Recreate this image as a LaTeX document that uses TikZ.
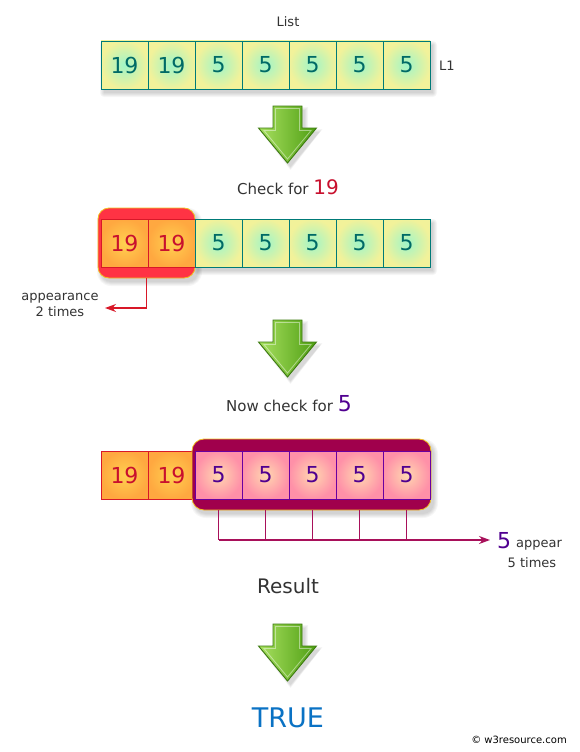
\documentclass[tikz,border=0pt]{standalone}
\usepackage{fontspec}
\setmainfont{DejaVu Sans}
\usetikzlibrary{arrows.meta}
\definecolor{mint}{HTML}{A0F5C8}
\definecolor{yel}{HTML}{F2F29A}
\definecolor{tealline}{HTML}{007A78}
\definecolor{tealtext}{HTML}{006A66}
\definecolor{orin}{HTML}{FFD050}
\definecolor{orout}{HTML}{FFA840}
\definecolor{redtext}{HTML}{C8102E}
\definecolor{redline}{HTML}{D81828}
\definecolor{redfill}{HTML}{FF3344}
\definecolor{goldedge}{HTML}{F0C020}
\definecolor{magfill}{HTML}{A0004C}
\definecolor{pinkin}{HTML}{FFD8B0}
\definecolor{pinkout}{HTML}{FF90A8}
\definecolor{purpleline}{HTML}{6A00A0}
\definecolor{purpletext}{HTML}{500090}
\definecolor{magline}{HTML}{A8105A}
\definecolor{truecol}{HTML}{0A72C4}
\definecolor{greytext}{HTML}{333333}
\definecolor{arrlight}{HTML}{A8E060}
\definecolor{arrdark}{HTML}{4E9E12}
\definecolor{arredge}{HTML}{3C7A10}
\newcommand\mysoftshadow[5]{%
  \foreach \d in {0,1,2,3,4}{%
    \fill[black,opacity=0.035,rounded corners={#5+\d}] ({#1+3-\d},{#2+4-\d}) rectangle ({#3+3+\d},{#4+4+\d});}}
\begin{document}
\begin{tikzpicture}[x=1pt,y=-1pt,
  cellbase/.style={minimum width=47pt,minimum height=48pt,inner sep=0pt,line width=0.8pt,font=\fontsize{22}{22}\selectfont},
  gcell/.style={cellbase,draw=tealline,inner color=mint,outer color=yel,text=tealtext},
  ocell/.style={cellbase,draw=redline,inner color=orin,outer color=orout,text=redtext},
  pcell/.style={cellbase,draw=purpleline,inner color=pinkin,outer color=pinkout,text=purpletext},
  redbox/.style={draw=goldedge,fill=redfill,line width=0.8pt,rounded corners=11pt,minimum width=97pt,minimum height=70pt,inner sep=0pt},
  magbox/.style={draw=goldedge,fill=magfill,line width=0.8pt,rounded corners=12pt,minimum width=239pt,minimum height=71pt,inner sep=0pt},
  txt/.style={text=greytext,inner sep=0pt,font=\fontsize{15}{18}\selectfont},
  small/.style={text=greytext,inner sep=0pt,font=\fontsize{13}{16}\selectfont,align=center},
  redconn/.style={draw=redline,line width=1.3pt,-{Stealth[length=11pt,width=8pt]}},
  magconn/.style={draw=magline,line width=1.3pt},
  greenarrow/.pic={
    \foreach \d in {0,1,2,3}{\fill[black,opacity=0.04] ({-14.5+3-\d},{0+4-\d}) -- ({14.5+3+\d},{0+4-\d}) -- ({14.5+3+\d},{22+4-\d}) -- ({29+3+\d},{22+4-\d}) -- ({0+3},{57+4+\d}) -- ({-29+3-\d},{22+4-\d}) -- ({-14.5+3-\d},{22+4-\d}) -- cycle;}
    \path[draw=arredge,line width=0.9pt,left color=arrlight,right color=arrdark,line join=miter]
      (-14.5,0) -- (14.5,0) -- (14.5,22) -- (29,22) -- (0,57) -- (-29,22) -- (-14.5,22) -- cycle;
    \draw[white,opacity=0.45,line width=0.8pt] (-12,2.5) -- (12,2.5) -- (12,24.5) -- (23.5,24.5) -- (0,53) -- (-23.5,24.5) -- (-12,24.5) -- cycle;
  }]
\useasboundingbox (0,0) rectangle (579,752);
\fill[white] (0,0) rectangle (579,752);

% ---------- title and row 1 ----------
\node[small] (list) at (288,22) {List};
\mysoftshadow{101}{41}{430}{89}{0}
\foreach \v [count=\i] in {19,19,5,5,5,5,5}{
  \node[gcell] (c1\i) at ({101+23.5+47*(\i-1)},65) {\v};}
\node[small,anchor=west] (l1) at (439,66) {L1};

\pic at (287.5,106) {greenarrow};

% ---------- check for 19 ----------
\node[txt] (chk1) at (288,187) {Check for \textcolor{redtext}{\fontsize{20}{20}\selectfont 19}};
\mysoftshadow{98}{208}{195}{278}{10}
\mysoftshadow{195}{219}{430}{267}{0}
\node[redbox] (rb) at (146.5,243) {};
\foreach \v [count=\i] in {19,19}{
  \node[ocell] (c2\i) at ({101+23.5+47*(\i-1)},243) {\v};}
\foreach \i in {3,...,7}{
  \node[gcell] (c2\i) at ({101+23.5+47*(\i-1)},243) {5};}
\node[small] (app) at (60,305) {appearance\\2 times};
\coordinate (a1) at (105,308);
\draw[redconn] (rb.south) |- (a1);

\pic at (287.5,320) {greenarrow};

% ---------- check for 5 ----------
\node[txt] (chk2) at (289,404) {Now check for \textcolor{purpletext}{\fontsize{22}{22}\selectfont 5}};
\mysoftshadow{192}{439}{431}{510}{11}
\foreach \v [count=\i] in {19,19}{
  \node[ocell] (c3\i) at ({101+23.5+47*(\i-1)},475) {\v};}
\node[magbox] (mb) at (311.5,474.5) {};
\foreach \i in {3,...,7}{
  \node[pcell] (c3\i) at ({101+23.5+47*(\i-1)},475) {5};}
\coordinate (hl) at (219,540);
\coordinate (a2) at (490,540);
\foreach \i in {3,...,7}{
  \draw[magconn] (c3\i |- mb.south) -- (c3\i |- hl);}
\draw[magconn,-{Stealth[length=11pt,width=8pt]}] (c33 |- hl) -- (a2);
\node[inner sep=0pt,anchor=west,text=purpletext,font=\fontsize{22}{22}\selectfont] (five) at (497,541) {5};
\node[small,anchor=west] (appear) at (516,545) {appear};
\node[small] (times) at (532,563) {5 times};

% ---------- result ----------
\node[text=greytext,inner sep=0pt,font=\fontsize{20}{24}\selectfont] (res) at (288,586) {Result};
\pic at (287.5,624) {greenarrow};
\node[text=truecol,inner sep=0pt,font=\fontsize{27}{30}\selectfont] (true) at (288,718) {TRUE};
\node[inner sep=0pt,font=\fontsize{10}{12}\selectfont] (copy) at (519,740) {\textcopyright\ w3resource.com};
\end{tikzpicture}
\end{document}
